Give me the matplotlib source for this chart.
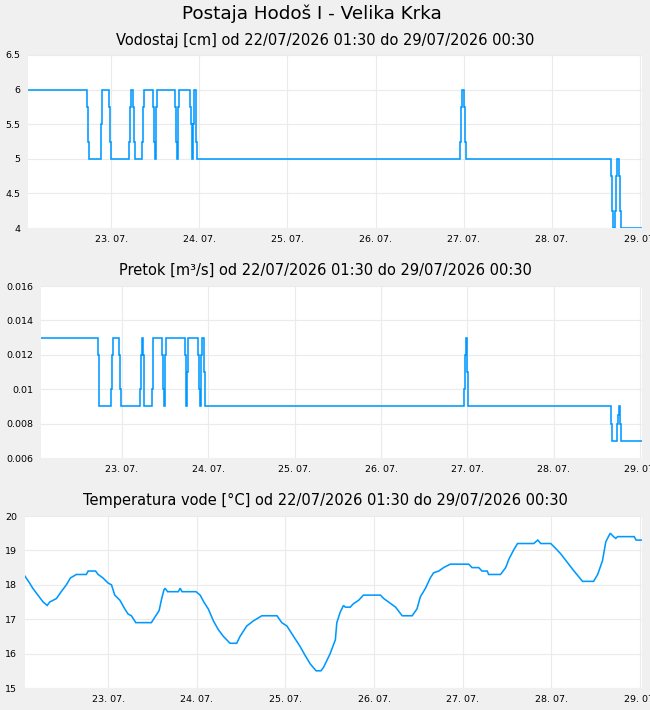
import numpy as np
import pandas as pd
import matplotlib
matplotlib.use("Agg")
import matplotlib.pyplot as plt
import matplotlib.dates as mdates

START = pd.Timestamp("2026-07-22 01:30")
END = pd.Timestamp("2026-07-29 00:30")

# vodostaj [cm] - change points (hours after start, value)
level_h = [0, 16.0, 16.25, 16.5, 19.75, 20.0, 22.0, 22.25, 22.5, 27.5, 27.75, 28.0, 28.5, 28.75, 29.0,
           31.0, 31.25, 31.5, 34.0, 34.25, 34.5, 34.75, 35.0, 40.0, 40.25, 40.5, 40.75, 41.0,
           44.0, 44.25, 44.5, 44.75, 45.0, 45.5, 45.75, 46.0, 117.5, 117.75, 118.0, 118.5, 118.75, 119.0,
           158.5, 158.75, 159.0, 159.75, 160.0, 160.25, 160.75, 161.0, 161.25, 167.0]
level_v = [6, 5.75, 5.25, 5, 5.5, 6, 5.75, 5.25, 5, 5.25, 5.75, 6, 5.75, 5.25, 5,
           5.25, 5.75, 6, 5.75, 5.25, 5, 5.75, 6, 5.75, 5.25, 5, 5.75, 6,
           5.75, 5.5, 5, 5.5, 6, 5.75, 5.25, 5, 5.25, 5.75, 6, 5.75, 5.25, 5,
           4.75, 4.25, 4, 4.25, 4.75, 5, 4.75, 4.25, 4, 4]

# pretok [m3/s]
flow_h = [0, 15.75, 16.0, 16.25, 19.5, 19.75, 20.0, 21.75, 22.0, 22.25, 27.5, 27.75, 28.0, 28.25, 28.5, 28.75,
          30.75, 31.0, 31.25, 33.75, 34.0, 34.25, 34.5, 34.75, 40.0, 40.25, 40.5, 40.75,
          43.75, 44.0, 44.25, 44.5, 44.75, 45.25, 45.5, 117.5, 117.75, 118.0, 118.5, 118.75,
          158.5, 158.75, 160.0, 160.25, 160.5, 161.0, 161.25, 167.0]
flow_v = [0.013, 0.012, 0.010, 0.009, 0.010, 0.012, 0.013, 0.012, 0.010, 0.009, 0.010, 0.012, 0.013, 0.012, 0.010, 0.009,
          0.010, 0.012, 0.013, 0.012, 0.010, 0.009, 0.012, 0.013, 0.012, 0.009, 0.011, 0.013,
          0.012, 0.010, 0.009, 0.012, 0.013, 0.011, 0.009, 0.010, 0.012, 0.013, 0.011, 0.009,
          0.008, 0.007, 0.008, 0.0085, 0.009, 0.008, 0.007, 0.007]

# temperatura vode [C]
temp_h = [0, 1.25, 2.1, 3.5, 4.9, 6.0, 6.7, 8.5, 9.8, 11.2, 12.3, 13.9, 16.6, 17.1, 19.1, 19.8, 21.1, 22.5,
          23.4, 24.3, 25.7, 27.0, 27.9, 28.8, 30.0, 34.2, 35.1, 36.3, 37.0, 37.6, 37.9, 38.6, 41.5, 42.0,
          42.5, 46.3, 47.4, 48.4, 49.6, 51.0, 52.3, 53.7, 55.5, 57.3, 58.2, 60.0, 61.8, 64.1, 68.2, 69.5,
          70.9, 72.7, 74.5, 75.8, 77.2, 78.8, 80.1, 80.8, 82.6, 84.0, 84.4, 85.3, 86.2, 86.7, 88.0, 88.9,
          90.3, 91.6, 96.2, 97.1, 98.4, 100.3, 102.1, 104.8, 106.1, 107.0, 108.4, 109.7, 110.6, 112.0,
          113.3, 115.1, 120.1, 121.0, 122.8, 123.7, 125.1, 125.5, 128.7, 130.1, 131.0, 132.2, 133.3,
          137.7, 138.8, 139.6, 142.3, 143.7, 145.0, 146.8, 148.6, 150.9, 153.9, 155.0, 156.3, 157.2,
          158.4, 159.3, 159.9, 160.4, 164.9, 165.4, 167.0]
temp_v = [18.25, 18.05, 17.9, 17.7, 17.5, 17.4, 17.5, 17.6, 17.8, 18.0, 18.2, 18.3, 18.3, 18.4, 18.4, 18.3, 18.2, 18.05,
          18.0, 17.7, 17.55, 17.3, 17.15, 17.1, 16.9, 16.9, 17.05, 17.25, 17.6, 17.85, 17.9, 17.8, 17.8, 17.9,
          17.8, 17.8, 17.7, 17.5, 17.3, 16.95, 16.7, 16.5, 16.3, 16.3, 16.5, 16.8, 16.95, 17.1, 17.1, 16.9,
          16.8, 16.5, 16.2, 15.95, 15.7, 15.5, 15.5, 15.6, 16.0, 16.4, 16.9, 17.2, 17.4, 17.35, 17.35, 17.45,
          17.55, 17.7, 17.7, 17.6, 17.5, 17.35, 17.1, 17.1, 17.3, 17.65, 17.9, 18.2, 18.35, 18.4,
          18.5, 18.6, 18.6, 18.5, 18.5, 18.4, 18.4, 18.3, 18.3, 18.5, 18.75, 19.0, 19.2,
          19.2, 19.3, 19.2, 19.2, 19.05, 18.9, 18.65, 18.4, 18.1, 18.1, 18.3, 18.7, 19.25,
          19.5, 19.4, 19.35, 19.4, 19.4, 19.3, 19.3]

level_ticks = [4, 4.5, 5, 5.5, 6, 6.5]
level_labels = ["4", "4.5", "5", "5.5", "6", "6.5"]
flow_ticks = [0.006, 0.008, 0.010, 0.012, 0.014, 0.016]
flow_labels = ["0.006", "0.008", "0.01", "0.012", "0.014", "0.016"]
temp_ticks = [15, 16, 17, 18, 19, 20]
temp_labels = ["15", "16", "17", "18", "19", "20"]
day_ticks = pd.date_range("2026-07-23", "2026-07-29", freq="D")
day_labels = [d.strftime("%d. %m.") for d in day_ticks]


def to_time(hours):
    return START + pd.to_timedelta(hours, unit="h")


BG = "#f0f0f0"
LINE = "#0099ff"
GRID = "#ebebeb"
W, H = 650, 710

fig = plt.figure(figsize=(6.5, 7.1), dpi=100, facecolor=BG)

panels = [
    # left, top, bottom (px), data, ticks, labels, title
    (28.4, 55, 228, level_h, level_v, level_ticks, level_labels, "steps-post",
     "Vodostaj [cm] od 22/07/2026 01:30 do 29/07/2026 00:30", 40),
    (41, 286, 458, flow_h, flow_v, flow_ticks, flow_labels, "steps-post",
     "Pretok [m³/s] od 22/07/2026 01:30 do 29/07/2026 00:30", 270),
    (25, 516, 688, temp_h, temp_v, temp_ticks, temp_labels, "default",
     "Temperatura vode [°C] od 22/07/2026 01:30 do 29/07/2026 00:30", 500),
]

right = 642
for left, top, bottom, hh, vv, yt, yl, ds, title, ty in panels:
    ax = fig.add_axes([left / W, 1 - bottom / H, (right - left) / W, (bottom - top) / H])
    ax.set_facecolor("white")
    ax.plot(to_time(hh), vv, color=LINE, lw=1.15, drawstyle=ds, solid_joinstyle="miter")
    ax.set_xlim(START, END)
    ax.set_ylim(yt[0], yt[-1])
    ax.set_yticks(yt)
    ax.set_yticklabels(yl)
    ax.set_xticks(day_ticks)
    ax.set_xticklabels(day_labels)
    ax.grid(True, color=GRID, lw=0.8)
    ax.set_axisbelow(True)
    ax.tick_params(length=0, labelsize=6.8, colors="black")
    ax.tick_params(axis="x", pad=5)
    ax.tick_params(axis="y", pad=5.5)
    for s in ax.spines.values():
        s.set_visible(False)
    fig.text(0.5, 1 - ty / H, title, ha="center", va="center", fontsize=10.5)

fig.text(312 / W, 1 - 14 / H, "Postaja Hodoš I - Velika Krka", ha="center", va="center", fontsize=13.2)

fig.savefig("out.png", dpi=100, facecolor=BG)
